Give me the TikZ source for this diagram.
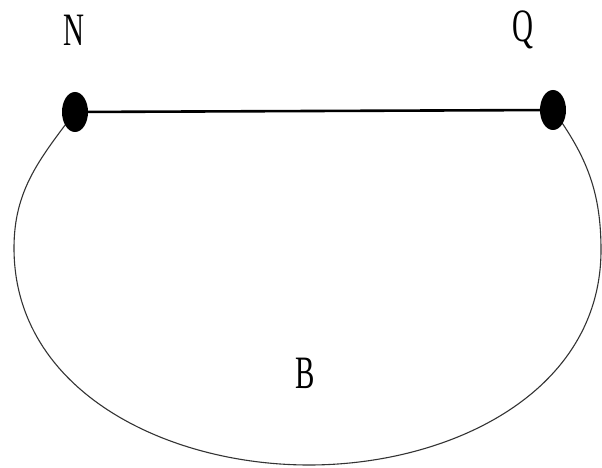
\documentclass[tikz,border=0pt]{standalone}
\usepackage{fontspec}
\usetikzlibrary{shapes.geometric}
\setmainfont{Liberation Serif}
\begin{document}
\begin{tikzpicture}[x=1pt,y=1pt,
  vdot/.style={fill=black,draw=none,inner sep=0pt,minimum width=26pt,minimum height=40pt,shape=ellipse},
  lbl/.style={font=\fontsize{29}{29}\selectfont,yscale=1.6,inner sep=0pt},
  curve/.style={draw=black!80,line width=1.1pt},
  chord/.style={draw=black,line width=2.6pt}]
\useasboundingbox (0,0) rectangle (602,468);
% points (y up: y' = 468 - y)
\coordinate (L) at (14,220);
\coordinate (Bot) at (309,3);
\coordinate (R) at (601,218);
\coordinate (Npt) at (75,356);
\coordinate (Qpt) at (553,358);
\draw[curve] (Npt) to[out=233,in=90] (L) to[out=270,in=180] (Bot) to[out=0,in=270] (R) to[out=90,in=306] (Qpt);
\draw[chord] (Npt) -- (Qpt);
\node[vdot] (N) at (Npt) {};
\node[vdot] (Q) at (Qpt) {};
\node[lbl] (tN) at (74,438) {N};
\node[lbl] (tQ) at (523,438) {Q};
\node[lbl] (tB) at (305,95) {B};
\end{tikzpicture}
\end{document}
